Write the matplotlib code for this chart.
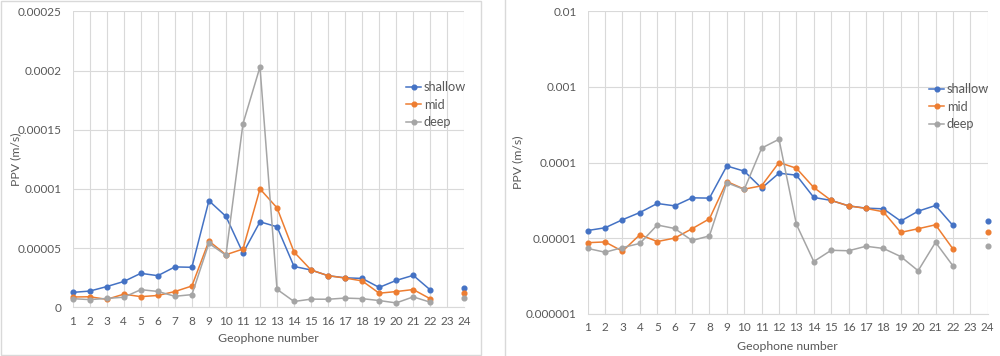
import numpy as np
import matplotlib
matplotlib.use("Agg")
import matplotlib.pyplot as plt
from matplotlib.lines import Line2D

plt.rcParams['font.family'] = ['Lato', 'DejaVu Sans']

geophones = list(range(1, 25))
nan = np.nan
shallow = [1.26e-5, 1.37e-5, 1.75e-5, 2.18e-5, 2.87e-5, 2.67e-5, 3.41e-5, 3.38e-5,
           9.0e-5, 7.68e-5, 4.58e-5, 7.22e-5, 6.8e-5, 3.45e-5, 3.15e-5, 2.67e-5,
           2.49e-5, 2.44e-5, 1.68e-5, 2.27e-5, 2.7e-5, 1.47e-5, nan, 1.66e-5]
mid = [8.7e-6, 8.9e-6, 6.7e-6, 1.11e-5, 9.0e-6, 1.0e-5, 1.33e-5, 1.8e-5,
       5.6e-5, 4.44e-5, 4.92e-5, 1.0e-4, 8.4e-5, 4.67e-5, 3.15e-5, 2.67e-5,
       2.47e-5, 2.23e-5, 1.19e-5, 1.33e-5, 1.5e-5, 7.2e-6, nan, 1.19e-5]
deep = [7.3e-6, 6.5e-6, 7.5e-6, 8.5e-6, 1.49e-5, 1.34e-5, 9.3e-6, 1.07e-5,
        5.4e-5, 4.4e-5, 1.55e-4, 2.03e-4, 1.52e-5, 4.9e-6, 6.9e-6, 6.8e-6,
        7.8e-6, 7.3e-6, 5.7e-6, 3.7e-6, 8.8e-6, 4.3e-6, nan, 7.8e-6]
series_names = ['shallow', 'mid', 'deep']
colors = ['#4472C4', '#ED7D31', '#A5A5A5']

lin_ticks = [0, 0.00005, 0.0001, 0.00015, 0.0002, 0.00025]
lin_labels = ['0', '0.00005', '0.0001', '0.00015', '0.0002', '0.00025']
log_ticks = [1e-6, 1e-5, 1e-4, 1e-3, 1e-2]
log_labels = ['0.000001', '0.00001', '0.0001', '0.001', '0.01']

W, H = 1000, 356
fig = plt.figure(figsize=(W / 100, H / 100), dpi=100)

def fx(px):
    return px / W

def fy(py):
    return 1 - py / H

grid_c = '#D9D9D9'
text_c = '#595959'
TICK_FS = 8.5
LAB_FS = 8.8
LEG_FS = 9.2

# chart frames
fig.add_artist(plt.Rectangle((fx(0.5), fy(355)), fx(480.5), (354) / H, transform=fig.transFigure,
                             fill=False, edgecolor=grid_c, linewidth=1.0))
fig.add_artist(Line2D([fx(505.5), fx(505.5)], [0, 1], transform=fig.transFigure,
                      color=grid_c, linewidth=1.0))

def style(ax):
    ax.set_xlim(1, 24)
    ax.set_xticks(geophones)
    ax.set_xticklabels([str(g) for g in geophones])
    ax.grid(True, which='major', color=grid_c, linewidth=0.8)
    ax.set_axisbelow(True)
    for s in ['top', 'right', 'left']:
        ax.spines[s].set_visible(False)
    ax.spines['bottom'].set_color(grid_c)
    ax.spines['bottom'].set_linewidth(0.8)
    ax.tick_params(axis='both', length=0, colors=text_c, labelsize=TICK_FS)
    ax.tick_params(axis='y', pad=8)
    ax.tick_params(axis='x', pad=6)
    ax.minorticks_off()
    ax.set_facecolor('none')
    for data, c, n in zip([shallow, mid, deep], colors, series_names):
        ax.plot(geophones, data, color=c, linewidth=1.1, marker='o', markersize=3.4,
                label=n, clip_on=False)

def legend(ax, x, y):
    ax.legend(loc='upper left', bbox_to_anchor=(fx(x), fy(y)), bbox_transform=fig.transFigure,
              frameon=False, fontsize=LEG_FS, handlelength=1.2, handletextpad=0.2,
              labelspacing=0.45, borderpad=0, borderaxespad=0, labelcolor=text_c)

# left: linear
ax1 = fig.add_axes([fx(72.7), fy(307.3), (464.3 - 72.7) / W, (307.3 - 11.3) / H])
style(ax1)
ax1.set_ylim(0, 0.00025)
ax1.set_yticks(lin_ticks)
ax1.set_yticklabels(lin_labels)
ax1.set_xlabel('Geophone number', color=text_c, fontsize=LAB_FS)
ax1.set_ylabel('PPV (m/s)', color=text_c, fontsize=LAB_FS)
ax1.xaxis.set_label_coords(0.499, (307.3 - 339) / 296, transform=None)
ax1.xaxis.label.set_va('center')
ax1.yaxis.set_label_coords((16 - 72.7) / 391.6, 0.5)
ax1.yaxis.label.set_va('center')
legend(ax1, 406, 81)

# right: log
ax2 = fig.add_axes([fx(587.7), fy(313.7), (987.7 - 587.7) / W, (313.7 - 11.3) / H])
style(ax2)
ax2.set_yscale('log')
ax2.set_ylim(1e-6, 1e-2)
ax2.set_yticks(log_ticks)
ax2.set_yticklabels(log_labels)
ax2.minorticks_off()
ax2.set_xlabel('Geophone number', color=text_c, fontsize=LAB_FS)
ax2.set_ylabel('PPV (m/s)', color=text_c, fontsize=LAB_FS)
ax2.xaxis.set_label_coords(0.498, (313.7 - 346) / 302.4)
ax2.xaxis.label.set_va('center')
ax2.yaxis.set_label_coords((518 - 587.7) / 400, 0.5)
ax2.yaxis.label.set_va('center')
legend(ax2, 929, 83)

fig.savefig('out.png', dpi=100)
